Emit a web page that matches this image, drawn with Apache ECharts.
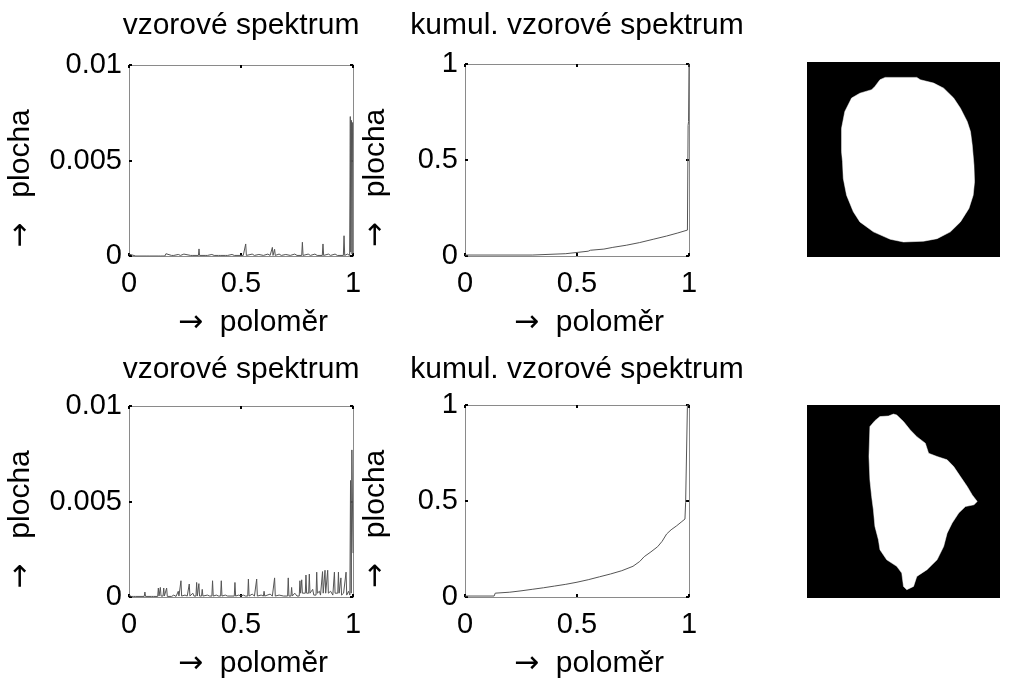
<!DOCTYPE html>
<html>
<head>
<meta charset="utf-8">
<script src="https://cdn.jsdelivr.net/npm/echarts@6/dist/echarts.min.js"></script>
<style>html,body{margin:0;padding:0;background:#fff}#c{width:1011px;height:680px}</style>
</head>
<body>
<div id="c"></div>
<script>
// ---------- data ----------
const titleSpectrum = 'vzorové spektrum';
const titleCumul = 'kumul. vzorové spektrum';
const xAxisName = '{a|→}  poloměr';
const yAxisName = '{a|→}   plocha';
const xTicks = [0, 0.5, 1];
const ySpecTicks = [0, 0.005, 0.01];
const yCumTicks = [0, 0.5, 1];

// pattern spectrum, shape 1 (radius, area)
const spec1 = [[0,0.0001],[0.005,0],[0.03,0],[0.035,0.00008],[0.04,0],[0.08,0],[0.085,0.00008],[0.09,0],[0.13,0],[0.135,0.0001],[0.14,0],[0.16,0],[0.165,0.00012],[0.17,0.00003],[0.19,0.00003],[0.195,0.0001],[0.2,0.00003],[0.22,0.00008],[0.23,0.00003],[0.245,0.0001],[0.25,0.00003],[0.275,0.00003],[0.28,0.0001],[0.285,0.00003],[0.31,0.00003],[0.3125,0.00037],[0.315,0.00003],[0.34,0.00003],[0.345,0.0001],[0.35,0.00003],[0.37,0.00008],[0.38,0.00003],[0.4,0.00003],[0.405,0.0001],[0.41,0.00003],[0.43,0.00003],[0.435,0.0001],[0.44,0.00003],[0.46,0.00008],[0.47,0.00003],[0.5,0.00003],[0.505,0.0001],[0.51,0.00003],[0.518,0.00003],[0.521,0.00063],[0.524,0.00003],[0.55,0.0001],[0.56,0.00003],[0.58,0.00008],[0.6,0.00003],[0.62,0.0001],[0.63,0.00003],[0.637,0.00003],[0.64,0.00045],[0.643,0.00003],[0.647,0.00003],[0.65,0.00035],[0.653,0.00003],[0.67,0.0001],[0.68,0.00003],[0.7,0.00008],[0.72,0.00003],[0.74,0.0001],[0.75,0.00003],[0.771,0.00003],[0.774,0.00072],[0.777,0.00003],[0.8,0.0001],[0.81,0.00003],[0.83,0.0001],[0.84,0.00003],[0.863,0.00003],[0.866,0.00063],[0.869,0.00003],[0.89,0.0001],[0.9,0.00003],[0.92,0.0001],[0.93,0.00003],[0.957,0.00003],[0.96,0.00106],[0.963,0.00003],[0.975,0.0001],[0.985,0.00003],[0.988,0.0073],[0.99,0.0002],[0.993,0.0071],[0.996,0.0001],[0.998,0.007],[1.0,0.007]];

// cumulative pattern spectrum, shape 1
const cum1 = [[0,0.005],[0.30,0.005],[0.305,0.012],[0.45,0.012],[0.455,0.022],[0.55,0.025],[0.56,0.03],[0.62,0.036],[0.66,0.045],[0.72,0.056],[0.78,0.07],[0.84,0.087],[0.90,0.104],[0.95,0.12],[0.993,0.135],[0.996,0.68],[0.998,0.70],[1.0,1.0]];

// pattern spectrum, shape 2
const spec2 = [[0,0.0001],[0.01,0.00003],[0.02,0.00003],[0.025,0.0001],[0.03,0.00003],[0.068,0.00003],[0.071,0.00026],[0.074,0.00003],[0.1,0.00003],[0.105,0.0001],[0.11,0.00003],[0.128,0.00003],[0.131,0.00047],[0.134,0.00005],[0.137,0.00005],[0.14,0.0005],[0.143,0.00005],[0.152,0.00005],[0.155,0.00047],[0.158,0.00005],[0.165,0.00005],[0.168,0.00047],[0.171,0.00003],[0.19,0.00003],[0.2,0.0001],[0.21,0.00003],[0.217,0.00003],[0.22,0.0003],[0.223,0.00005],[0.229,0.00005],[0.232,0.00085],[0.235,0.00005],[0.25,0.0001],[0.26,0.00005],[0.266,0.00005],[0.269,0.00068],[0.272,0.00005],[0.285,0.0002],[0.29,0.00005],[0.299,0.00005],[0.302,0.00076],[0.305,0.00005],[0.309,0.00005],[0.312,0.0007],[0.315,0.00005],[0.324,0.00005],[0.327,0.0004],[0.33,0.00005],[0.35,0.0001],[0.36,0.00005],[0.37,0.00005],[0.373,0.00085],[0.376,0.00005],[0.39,0.0001],[0.4,0.00005],[0.409,0.00005],[0.412,0.00085],[0.415,0.00005],[0.43,0.0001],[0.44,0.00005],[0.47,0.00005],[0.473,0.00076],[0.476,0.00005],[0.49,0.0001],[0.5,0.00005],[0.51,0.0001],[0.52,0.00005],[0.53,0.00005],[0.533,0.00094],[0.536,0.00005],[0.55,0.00015],[0.56,0.00005],[0.567,0.00005],[0.57,0.00094],[0.573,0.00005],[0.59,0.0001],[0.6,0.00005],[0.603,0.0003],[0.606,0.00005],[0.63,0.00015],[0.64,0.00005],[0.647,0.00005],[0.65,0.001],[0.653,0.00005],[0.67,0.0001],[0.69,0.00005],[0.708,0.00005],[0.711,0.001],[0.714,0.00005],[0.723,0.00005],[0.726,0.0005],[0.729,0.00005],[0.74,0.0002],[0.745,0.0003],[0.75,0.00005],[0.76,0.00005],[0.763,0.00085],[0.766,0.0002],[0.771,0.0009],[0.774,0.0002],[0.78,0.0003],[0.787,0.0002],[0.79,0.00115],[0.793,0.0002],[0.802,0.0002],[0.805,0.0012],[0.808,0.0002],[0.815,0.0003],[0.82,0.0004],[0.825,0.0001],[0.835,0.0001],[0.838,0.0013],[0.841,0.0002],[0.85,0.0003],[0.855,0.0001],[0.861,0.0002],[0.864,0.00133],[0.867,0.0002],[0.872,0.0002],[0.875,0.0014],[0.878,0.0002],[0.884,0.0002],[0.887,0.0014],[0.89,0.0002],[0.9,0.0003],[0.905,0.0004],[0.91,0.0001],[0.914,0.0001],[0.917,0.0013],[0.92,0.0002],[0.932,0.0002],[0.935,0.0013],[0.938,0.0002],[0.943,0.0002],[0.946,0.001],[0.949,0.0001],[0.958,0.0002],[0.962,0.0003],[0.966,0.0001],[0.969,0.0013],[0.972,0.0001],[0.98,0.0003],[0.986,0.0001],[0.989,0.0061],[0.992,0.0002],[0.995,0.0077],[1.0,0.0023]];

// cumulative pattern spectrum, shape 2
const cum2 = [[0,0.005],[0.13,0.005],[0.135,0.02],[0.20,0.025],[0.25,0.032],[0.30,0.04],[0.35,0.048],[0.40,0.057],[0.45,0.066],[0.50,0.077],[0.55,0.09],[0.60,0.105],[0.65,0.12],[0.70,0.137],[0.75,0.16],[0.78,0.185],[0.80,0.21],[0.83,0.235],[0.86,0.262],[0.88,0.29],[0.90,0.328],[0.92,0.35],[0.945,0.371],[0.965,0.39],[0.982,0.406],[0.985,0.493],[0.99,0.50],[0.993,1.0],[1.0,1.0]];

// binary shape outlines (image coordinates 0..100, y downward)
const shape1 = [[40.5,7.9],[56.9,7.9],[58.7,9.1],[65.6,10.8],[70.8,13.4],[76.0,18.5],[79.5,23.7],[83.0,30.5],[84.7,35.7],[85.6,42.5],[86.5,52.8],[86.8,61.4],[86.1,68.3],[83.9,75.1],[79.5,82.0],[74.3,87.1],[67.4,90.6],[60.4,91.9],[50.0,92.3],[43.1,90.9],[34.4,87.1],[27.4,82.0],[24.0,76.8],[20.5,68.3],[18.8,59.7],[18.4,51.1],[17.9,46.0],[17.9,34.0],[19.6,25.4],[23.1,18.5],[27.4,16.0],[33.5,14.2],[35.2,12.5],[37.8,9.1]];
const shape2 = [[37.8,6.0],[42.2,5.7],[44.8,4.7],[46.5,5.2],[50.0,8.6],[53.5,12.9],[56.9,16.4],[61.3,19.8],[63.0,25.0],[67.4,26.7],[72.6,28.4],[76.0,31.9],[79.5,37.1],[83.0,42.2],[85.6,46.6],[88.2,50.0],[86.5,51.7],[82.1,52.6],[78.6,56.0],[75.2,61.2],[72.6,66.4],[70.8,73.3],[67.4,80.2],[62.2,85.3],[56.9,88.8],[55.2,94.0],[51.7,95.7],[50.0,94.0],[49.1,87.1],[46.5,83.6],[41.3,80.2],[37.8,75.0],[37.0,69.8],[35.2,62.9],[34.4,54.3],[33.5,47.4],[32.6,38.8],[32.1,26.7],[32.6,11.2],[35.2,8.1]];

// ---------- layout ----------
const FONT = 'Liberation Sans';
const FS = 29;
const NFS = 30;
const TFS = 30;
const plots = [
  {grid:{left:129, top:65, width:224, height:191}, data:spec1, yt:ySpecTicks, title:titleSpectrum, titleTop:6, nameGap:93},
  {grid:{left:465, top:64, width:224, height:192}, data:cum1, yt:yCumTicks, title:titleCumul, titleTop:6, nameGap:74},
  {grid:{left:129, top:406, width:224, height:192}, data:spec2, yt:ySpecTicks, title:titleSpectrum, titleTop:350, nameGap:93},
  {grid:{left:465, top:405, width:224, height:193}, data:cum2, yt:yCumTicks, title:titleCumul, titleTop:350, nameGap:74}
];
const images = [
  {grid:{left:807, top:62, width:193, height:195}, shape:shape1},
  {grid:{left:807, top:405, width:193, height:193}, shape:shape2}
];

const axisLineStyle = {show:true, onZero:false, lineStyle:{color:'#8a8a8a', width:1}};
const tickStyle = {show:true, inside:true, length:3, lineStyle:{color:'#000', width:2}};
const arrowRich = {a:{fontFamily:'DejaVu Sans', fontSize:NFS, color:'#000'}};

const grid = [], xAxis = [], yAxis = [], series = [], title = [];
plots.forEach((p, i) => {
  grid.push(Object.assign({containLabel:false}, p.grid));
  const cx = p.grid.left + p.grid.width / 2 - 5;
  title.push({text:p.title, left:cx, top:p.titleTop, textAlign:'center',
    textStyle:{fontFamily:FONT, fontSize:TFS, fontWeight:'normal', color:'#000'}});
  const xmin = xTicks[0], xmax = xTicks[xTicks.length-1];
  const ymin = p.yt[0], ymax = p.yt[p.yt.length-1], yint = p.yt[1]-p.yt[0];
  xAxis.push({gridIndex:i, type:'value', min:xmin, max:xmax, interval:xTicks[1]-xTicks[0], position:'bottom',
    axisLine:axisLineStyle, axisTick:tickStyle, splitLine:{show:false},
    axisLabel:{margin:13, fontFamily:FONT, fontSize:FS, color:'#000'},
    name:xAxisName, nameLocation:'middle', nameGap:52,
    nameTextStyle:{fontFamily:FONT, fontSize:NFS, color:'#000', padding:[0,0,0,24], rich:arrowRich}});
  xAxis.push({gridIndex:i, type:'value', min:xmin, max:xmax, interval:xTicks[1]-xTicks[0], position:'top',
    axisLine:axisLineStyle, axisTick:tickStyle, splitLine:{show:false}, axisLabel:{show:false}});
  yAxis.push({gridIndex:i, type:'value', min:ymin, max:ymax, interval:yint, position:'left',
    axisLine:axisLineStyle, axisTick:tickStyle, splitLine:{show:false},
    axisLabel:{margin:7, fontFamily:FONT, fontSize:FS, color:'#000'},
    name:yAxisName, nameLocation:'middle', nameGap:p.nameGap,
    nameTextStyle:{fontFamily:FONT, fontSize:NFS, color:'#000', padding:[0,36,0,0], rich:arrowRich}});
  yAxis.push({gridIndex:i, type:'value', min:ymin, max:ymax, interval:yint, position:'right',
    axisLine:axisLineStyle, axisTick:tickStyle, splitLine:{show:false}, axisLabel:{show:false}});
  series.push({type:'line', xAxisIndex:2*i, yAxisIndex:2*i, data:p.data, showSymbol:false, symbol:'none',
    lineStyle:{color:'#555', width:1}, animation:false, z:3});
});
images.forEach((im, k) => {
  const gi = plots.length + k;
  grid.push(Object.assign({show:true, backgroundColor:'#000', borderWidth:0}, im.grid));
  xAxis.push({gridIndex:gi, type:'value', min:0, max:100, show:false});
  yAxis.push({gridIndex:gi, type:'value', min:0, max:100, inverse:true, show:false});
  series.push({type:'custom', xAxisIndex:xAxis.length-1, yAxisIndex:yAxis.length-1,
    data:[im.shape[0]], animation:false, clip:true,
    renderItem:function(params, api){
      const pts = im.shape.map(pt => api.coord(pt));
      return {type:'polygon', shape:{points:pts}, style:{fill:'#fff', stroke:'#fff', lineWidth:0.5}};
    }});
});

const chart = echarts.init(document.getElementById('c'), null, {renderer:'canvas'});
chart.setOption({animation:false, backgroundColor:'#fff', title, grid, xAxis, yAxis, series});
</script>
</body>
</html>
